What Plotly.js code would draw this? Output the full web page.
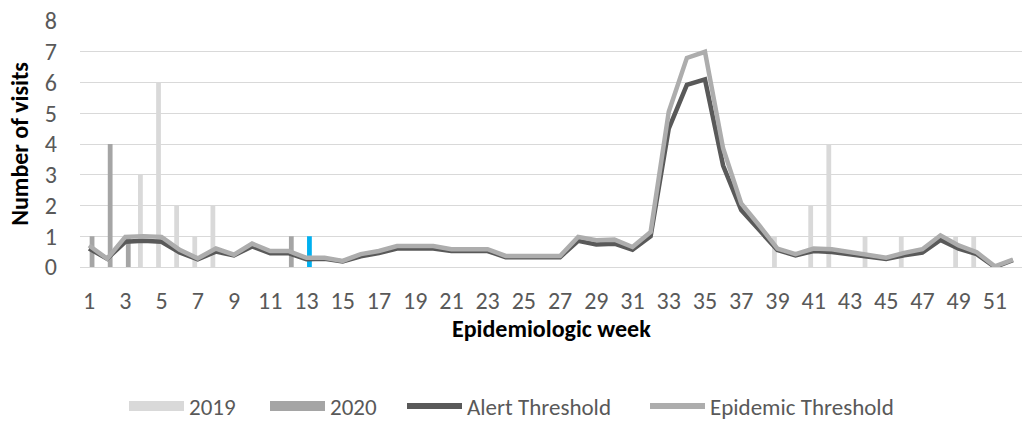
<!DOCTYPE html>
<html>
<head>
<meta charset="utf-8">
<script src="https://cdn.plot.ly/plotly-3.0.1.min.js"></script>
<style>html,body{margin:0;padding:0;background:#fff;}#chart{width:1033px;height:421px;}</style>
</head>
<body>
<div id="chart"></div>
<script>
const weeks = Array.from({length: 52}, (_, i) => i + 1);
const visits2019 = [0,0,0,3,6,2,1,2,0,0,0,0,0,0,0,0,0,0,0,0,0,0,0,0,0,0,0,0,0,0,0,0,0,0,0,0,0,0,1,0,2,4,0,1,0,1,0,0,1,1,0,0];
const visits2020 = [1,4,1,0,0,0,0,0,0,0,0,1,1];
const alertThreshold = [0.6,0.27,0.82,0.85,0.82,0.47,0.25,0.5,0.38,0.67,0.45,0.45,0.25,0.27,0.18,0.35,0.45,0.6,0.6,0.6,0.52,0.52,0.52,0.32,0.32,0.32,0.32,0.85,0.73,0.76,0.56,1.0,4.5,5.92,6.1,3.3,1.85,1.2,0.55,0.38,0.52,0.49,0.42,0.33,0.26,0.38,0.47,0.88,0.6,0.42,0.0,0.22];
const epidemicThreshold = [0.7,0.27,0.98,1.0,0.98,0.56,0.28,0.6,0.4,0.76,0.52,0.52,0.3,0.3,0.2,0.42,0.52,0.68,0.68,0.68,0.58,0.58,0.58,0.36,0.36,0.36,0.36,0.98,0.87,0.89,0.65,1.14,5.05,6.8,7.0,3.86,2.07,1.35,0.6,0.42,0.6,0.58,0.48,0.37,0.3,0.46,0.58,1.03,0.7,0.48,0.02,0.24];
const seriesNames = ['2019', '2020', 'Alert Threshold', 'Epidemic Threshold'];
const highlightWeek = 13;

const c2019 = '#D9D9D9', c2020 = '#A5A5A5', cHighlight = '#00B0F0';
const cAlert = '#595959', cEpi = '#ADADAD';

const weeks2020 = weeks.slice(0, visits2020.length);
const colors2020 = weeks2020.map(w => w === highlightWeek ? cHighlight : c2020);

const font = 'Carlito, Lato, Liberation Sans, Arial, sans-serif';

const traces = [
  {type: 'bar', x: weeks, y: visits2019, marker: {color: c2019}, showlegend: false, hoverinfo: 'x+y'},
  {type: 'bar', x: weeks2020, y: visits2020, marker: {color: colors2020}, showlegend: false, hoverinfo: 'x+y'},
  {type: 'scatter', mode: 'lines', x: weeks, y: alertThreshold, line: {color: cAlert, width: 4.5}, showlegend: false},
  {type: 'scatter', mode: 'lines', x: weeks, y: epidemicThreshold, line: {color: cEpi, width: 4.5}, showlegend: false},
  {type: 'scatter', mode: 'lines', x: [null], y: [null], name: seriesNames[0], legend: 'legend', line: {color: c2019, width: 13}},
  {type: 'scatter', mode: 'lines', x: [null], y: [null], name: seriesNames[1], legend: 'legend2', line: {color: c2020, width: 13}},
  {type: 'scatter', mode: 'lines', x: [null], y: [null], name: seriesNames[2], legend: 'legend3', line: {color: cAlert, width: 6}},
  {type: 'scatter', mode: 'lines', x: [null], y: [null], name: seriesNames[3], legend: 'legend4', line: {color: cEpi, width: 6}}
];

function legendAt(px) {
  return {
    orientation: 'h', xref: 'container', yref: 'container', x: px / 1033, xanchor: 'left',
    y: (421 - 406) / 421, yanchor: 'middle', bgcolor: 'rgba(0,0,0,0)',
    font: {size: 23, color: '#595959', family: font}, itemwidth: 55
  };
}

const layout = {
  width: 1033, height: 421,
  margin: {l: 80, r: 11, t: 21, b: 154},
  paper_bgcolor: '#fff', plot_bgcolor: '#fff',
  font: {family: font, color: '#595959', size: 24},
  barmode: 'group', bargap: 0.34, bargroupgap: 0.2,
  xaxis: {
    range: [0.5, 52.5], tickmode: 'linear', tick0: 1, dtick: 2,
    showgrid: false, zeroline: false, showline: true, linecolor: '#D9D9D9', linewidth: 1,
    ticks: '', ticklabelstandoff: 12, tickfont: {size: 24, color: '#595959'},
    automargin: false
  },
  yaxis: {
    range: [0, 8], dtick: 1, showgrid: true, gridcolor: '#D9D9D9', gridwidth: 1,
    zeroline: false, showline: false, ticks: '', ticklabelstandoff: 22, tickfont: {size: 24, color: '#595959'},
    automargin: false,
    title: {text: 'Number of visits', font: {size: 24, color: '#000', family: font, weight: 'bold'}, standoff: 9}
  },
  annotations: [{
    text: 'Epidemiologic week', showarrow: false, xref: 'paper', yref: 'paper',
    x: 0.5, xanchor: 'center', y: (267 - 328) / 246, yanchor: 'middle',
    font: {size: 24, color: '#000', family: font, weight: 'bold'}
  }],
  legend: legendAt(124),
  legend2: legendAt(265),
  legend3: legendAt(402),
  legend4: legendAt(645),
  showlegend: true
};

Plotly.newPlot('chart', traces, layout, {displayModeBar: false, staticPlot: true});
</script>
</body>
</html>
